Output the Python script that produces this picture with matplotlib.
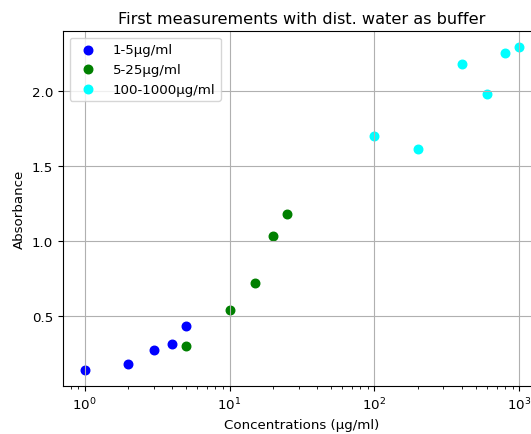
import matplotlib
matplotlib.use("Agg")
import matplotlib.pyplot as plt

# Concentrations (µg/ml) and measured absorbance per dilution series
conc_low = [1, 2, 3, 4, 5]
abs_low = [0.14, 0.18, 0.27, 0.31, 0.43]

conc_mid = [5, 10, 15, 20, 25]
abs_mid = [0.30, 0.54, 0.72, 1.03, 1.18]

conc_high = [100, 200, 400, 600, 800, 1000]
abs_high = [1.70, 1.61, 2.18, 1.98, 2.25, 2.29]

labels = ["1-5µg/ml", "5-25µg/ml", "100-1000µg/ml"]
colors = ["blue", "green", "cyan"]

plt.rcParams["font.size"] = 9.65

fig = plt.figure(figsize=(5.31, 4.35), dpi=100)
ax = fig.add_axes([0.1186, 0.1103, 0.900, 0.816])

for xs, ys, lab, col in zip([conc_low, conc_mid, conc_high],
                            [abs_low, abs_mid, abs_high], labels, colors):
    ax.scatter(xs, ys, color=col, label=lab, s=38)

ax.set_xscale("log")
ax.grid(True)
ax.set_title("First measurements with dist. water as buffer", fontsize=11.6)
ax.set_xlabel("Concentrations (µg/ml)")
ax.set_ylabel("Absorbance")
ax.legend(loc="upper left")

fig.savefig("out.png", dpi=100)
